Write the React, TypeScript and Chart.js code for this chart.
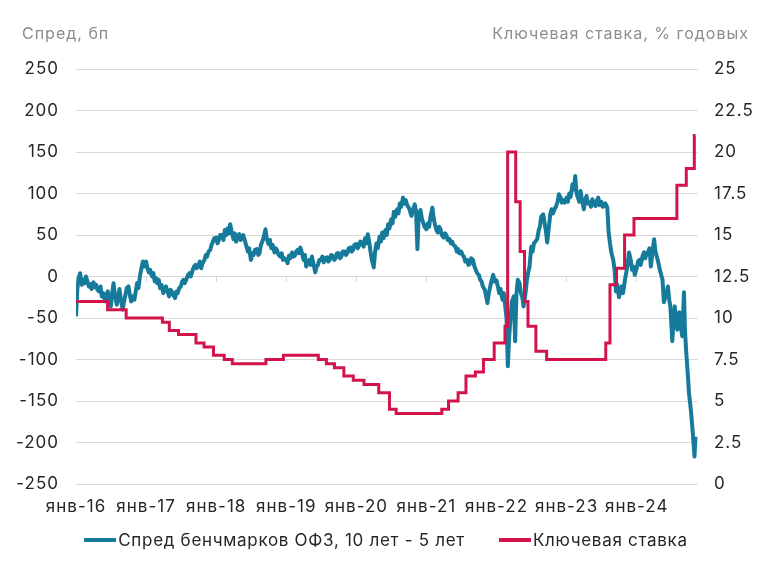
import React, { useEffect, useRef } from 'react';
import { Chart, registerables } from 'chart.js';

Chart.register(...registerables);

const SPREAD_COLOR = '#167B9B';
const RATE_COLOR = '#D2144B';
const TEXT_COLOR = '#262626';
const TITLE_COLOR = '#8C8C8C';
const GRID_COLOR = '#D9D9D9';
const FONT = 'Inter, "Noto Sans", sans-serif';

const seriesNames = ['Спред бенчмарков ОФЗ, 10 лет - 5 лет', 'Ключевая ставка'];
const leftTitle = 'Спред, бп';
const rightTitle = 'Ключевая ставка, % годовых';

const xTickLabels = ['янв-16', 'янв-17', 'янв-18', 'янв-19', 'янв-20', 'янв-21', 'янв-22', 'янв-23', 'янв-24'];
const X_MIN = 2016;
const X_MAX = 2024.875;

// Spread, bp — weekly readings (days 1, 8, 15, 22 of each month)
const spread2016 = [-48, -15, -2, 4, -10, -4, -8, 0, -6, -12, -9, -15, -7, -13, -10, -16, -18, -12, -24, -20, -30, -22, -18, -26, -36, -20, -8, -22, -34, -25, -15, -28, -40, -30, -22, -14, -12, -22, -30, -24, -28, -18, -8, -14, 2, 10, 18, 12];
const spread2017 = [18, 10, 5, 8, 0, 4, -6, -2, -8, -4, -14, -10, -20, -14, -12, -18, -24, -16, -18, -22, -26, -18, -20, -14, -12, -6, -4, -8, -2, 2, 4, 0, 8, 12, 14, 10, 14, 18, 10, 16, 20, 26, 24, 30, 32, 38, 42, 46];
const spread2018 = [47, 40, 44, 50, 50, 44, 56, 50, 58, 52, 63, 55, 45, 52, 42, 48, 51, 44, 46, 50, 42, 36, 30, 34, 20, 28, 26, 32, 33, 26, 28, 38, 44, 50, 57, 45, 39, 44, 34, 38, 29, 34, 31, 26, 24, 28, 20, 22];
const spread2019 = [20, 16, 25, 22, 29, 24, 25, 30, 32, 28, 35, 30, 20, 26, 12, 18, 20, 14, 24, 16, 5, 12, 14, 20, 20, 24, 17, 22, 23, 18, 20, 26, 25, 20, 22, 28, 28, 22, 24, 30, 30, 26, 28, 34, 35, 30, 32, 38];
const spread2020 = [39, 34, 37, 42, 41, 36, 46, 40, 51, 42, 30, 20, 11, 30, 40, 34, 48, 42, 53, 46, 56, 50, 63, 58, 69, 64, 78, 72, 81, 76, 88, 84, 95, 88, 92, 86, 83, 78, 73, 80, 87, 78, 33, 75, 80, 70, 65, 60];
const spread2021 = [57, 64, 60, 72, 83, 70, 62, 56, 53, 60, 57, 50, 47, 52, 50, 44, 45, 40, 42, 38, 36, 30, 33, 28, 30, 26, 24, 18, 20, 14, 15, 22, 20, 12, 8, 4, 2, -4, -6, -12, -16, -24, -32, -20, -10, -4, 2, -6];
const spread2022 = [-5, -12, -20, -15, -28, -20, -35, -50, -108, -72, -50, -30, -24, -78, -20, -4, -8, -20, -25, -36, -20, -5, 5, 12, 36, 30, 40, 42, 45, 55, 60, 72, 75, 65, 55, 41, 60, 75, 81, 76, 82, 85, 90, 99, 95, 89, 92, 89];
const spread2023 = [95, 90, 100, 96, 111, 105, 121, 100, 95, 90, 103, 92, 81, 92, 97, 88, 89, 84, 93, 88, 85, 92, 95, 86, 90, 84, 85, 88, 83, 53, 40, 29, 20, 8, -18, -10, -25, -15, -12, -20, -4, 5, 15, 29, 20, 8, 12, 2];
const spread2024 = [10, 18, 20, 14, 25, 29, 22, 28, 30, 34, 12, 26, 45, 30, 24, 18, 8, 2, -4, -31];
// Final stretch of 2024, read at individual dates
const spreadTailDates = ['2024-06-05', '2024-06-12', '2024-06-19', '2024-06-25', '2024-07-05', '2024-07-12', '2024-07-18', '2024-07-25', '2024-07-31', '2024-08-10', '2024-08-18', '2024-08-26', '2024-09-04', '2024-09-09', '2024-09-16', '2024-09-25', '2024-09-30', '2024-10-10', '2024-10-20', '2024-10-29', '2024-11-03'];
const spreadTailValues = [-20, -12, -28, -36, -78, -50, -36, -58, -64, -43, -60, -72, -19, -64, -92, -121, -140, -161, -188, -217, -193];

// Key rate, % — decision dates and new levels
const rateDates = ['2016-01-01', '2016-06-14', '2016-09-19', '2017-03-27', '2017-05-02', '2017-06-19', '2017-09-18', '2017-10-30', '2017-12-18', '2018-02-12', '2018-03-26', '2018-09-17', '2018-12-17', '2019-06-17', '2019-07-29', '2019-09-09', '2019-10-28', '2019-12-16', '2020-02-10', '2020-04-27', '2020-06-22', '2020-07-27', '2021-03-22', '2021-04-26', '2021-06-15', '2021-07-26', '2021-09-13', '2021-10-25', '2021-12-20', '2022-02-14', '2022-02-28', '2022-04-11', '2022-05-04', '2022-05-27', '2022-06-14', '2022-07-25', '2022-09-19', '2023-07-24', '2023-08-15', '2023-09-18', '2023-10-30', '2023-12-18', '2024-07-29', '2024-09-16', '2024-10-28', '2024-11-03'];
const rateValues = [11, 10.5, 10, 9.75, 9.25, 9, 8.5, 8.25, 7.75, 7.5, 7.25, 7.5, 7.75, 7.5, 7.25, 7, 6.5, 6.25, 6, 5.5, 4.5, 4.25, 4.5, 5, 5.5, 6.5, 6.75, 7.5, 8.5, 9.5, 20, 17, 14, 11, 9.5, 8, 7.5, 8.5, 12, 13, 15, 16, 18, 19, 21, 21];

const WEEK_DAYS = [1, 8, 15, 22];

function toYear(s: string): number {
  const [y, m, d] = s.split('-').map(Number);
  const start = Date.UTC(y, 0, 1);
  const end = Date.UTC(y + 1, 0, 1);
  return y + (Date.UTC(y, m - 1, d) - start) / (end - start);
}

function weekly(year: number, vals: number[]) {
  return vals.map((v, i) => {
    const month = Math.floor(i / 4) + 1;
    const day = WEEK_DAYS[i % 4];
    const ds = `${year}-${String(month).padStart(2, '0')}-${String(day).padStart(2, '0')}`;
    return { x: toYear(ds), y: v };
  });
}

function buildSpread() {
  const years: [number, number[]][] = [
    [2016, spread2016], [2017, spread2017], [2018, spread2018], [2019, spread2019],
    [2020, spread2020], [2021, spread2021], [2022, spread2022], [2023, spread2023], [2024, spread2024],
  ];
  const pts: { x: number; y: number }[] = [];
  years.forEach(([yr, vals]) => pts.push(...weekly(yr, vals)));
  spreadTailDates.forEach((d, i) => pts.push({ x: toYear(d), y: spreadTailValues[i] }));
  return pts;
}

const letterSpacingPlugin = {
  id: 'letterSpacing',
  beforeDraw(chart: any) {
    try { chart.ctx.letterSpacing = '1px'; } catch (e) { /* unsupported */ }
  },
};

export default function App() {
  const canvasRef = useRef<HTMLCanvasElement | null>(null);

  useEffect(() => {
    const canvas = canvasRef.current;
    if (!canvas) return;
    const ratePoints = rateDates.map((d, i) => ({ x: toYear(d), y: rateValues[i] }));
    const tickFont = { family: FONT, size: 17 };
    const chart = new Chart(canvas, {
      type: 'line',
      data: {
        datasets: [
          {
            label: seriesNames[0],
            data: buildSpread(),
            borderColor: SPREAD_COLOR,
            backgroundColor: SPREAD_COLOR,
            borderWidth: 4,
            pointRadius: 0,
            tension: 0,
            borderJoinStyle: 'round',
            xAxisID: 'x',
            yAxisID: 'y',
            order: 2,
          },
          {
            label: seriesNames[1],
            data: ratePoints,
            borderColor: RATE_COLOR,
            backgroundColor: RATE_COLOR,
            borderWidth: 3,
            pointRadius: 0,
            stepped: true,
            xAxisID: 'x',
            yAxisID: 'y1',
            order: 1,
          },
        ],
      },
      options: {
        animation: false,
        responsive: false,
        maintainAspectRatio: false,
        parsing: false as any,
        layout: { padding: { top: 69, bottom: 45, left: 0, right: 0 } },
        plugins: {
          legend: { display: false },
          tooltip: { enabled: false },
        },
        scales: {
          x: {
            type: 'linear',
            position: 'bottom',
            min: X_MIN,
            max: X_MAX,
            ticks: {
              stepSize: 1,
              includeBounds: false,
              autoSkip: false,
              maxRotation: 0,
              padding: 13,
              color: TEXT_COLOR,
              font: tickFont,
              callback: (v: any) => xTickLabels[Math.round(Number(v) - X_MIN)] ?? '',
            },
            grid: { display: false, drawTicks: false },
            border: { display: false },
            afterFit: (s: any) => { s.height = 40; },
          },
          x2: {
            type: 'linear',
            position: { y: 0 } as any,
            min: X_MIN,
            max: X_MAX,
            ticks: { stepSize: 1, includeBounds: false, display: false },
            grid: { drawOnChartArea: false, drawTicks: true, tickLength: 5, color: GRID_COLOR },
            border: { display: false },
          },
          y: {
            type: 'linear',
            position: 'left',
            min: -250,
            max: 250,
            ticks: {
              stepSize: 50,
              padding: 17,
              color: TEXT_COLOR,
              font: tickFont,
              callback: (v: any) => String(v),
            },
            grid: { color: GRID_COLOR, lineWidth: 1, drawTicks: false },
            border: { display: false },
            afterFit: (s: any) => { s.width = 76; },
          },
          y1: {
            type: 'linear',
            position: 'right',
            min: 0,
            max: 25,
            ticks: {
              stepSize: 2.5,
              padding: 16,
              color: TEXT_COLOR,
              font: tickFont,
              callback: (v: any) => String(v),
            },
            grid: { display: false, drawTicks: false },
            border: { display: false },
            afterFit: (s: any) => { s.width = 68; },
          },
        },
      },
      plugins: [letterSpacingPlugin],
    } as any);
    return () => chart.destroy();
  }, []);

  const legendItem = (color: string, text: string) => (
    <div style={{ display: 'flex', alignItems: 'center' }}>
      <div style={{ width: 32, height: 4, background: color, marginRight: 2 }} />
      <span>{text}</span>
    </div>
  );

  return (
    <div style={{ position: 'absolute', left: 0, top: 0, width: 766, height: 569, background: '#fff', fontFamily: FONT }}>
      <canvas ref={canvasRef} width={766} height={569} style={{ position: 'absolute', left: 0, top: 0, width: 766, height: 569 }} />
      <div style={{ position: 'absolute', left: 22, top: 22, fontSize: 16, letterSpacing: '1px', color: TITLE_COLOR, lineHeight: '22px', whiteSpace: 'nowrap' }}>{leftTitle}</div>
      <div style={{ position: 'absolute', right: 17, top: 22, fontSize: 16, letterSpacing: '1px', color: TITLE_COLOR, lineHeight: '22px', whiteSpace: 'nowrap' }}>{rightTitle}</div>
      <div style={{ position: 'absolute', left: 3, width: 766, top: 529, display: 'flex', justifyContent: 'center', gap: 34, fontSize: 17, letterSpacing: '0.7px', color: TEXT_COLOR, lineHeight: '22px', whiteSpace: 'nowrap' }}>
        {legendItem(SPREAD_COLOR, seriesNames[0])}
        {legendItem(RATE_COLOR, seriesNames[1])}
      </div>
    </div>
  );
}
